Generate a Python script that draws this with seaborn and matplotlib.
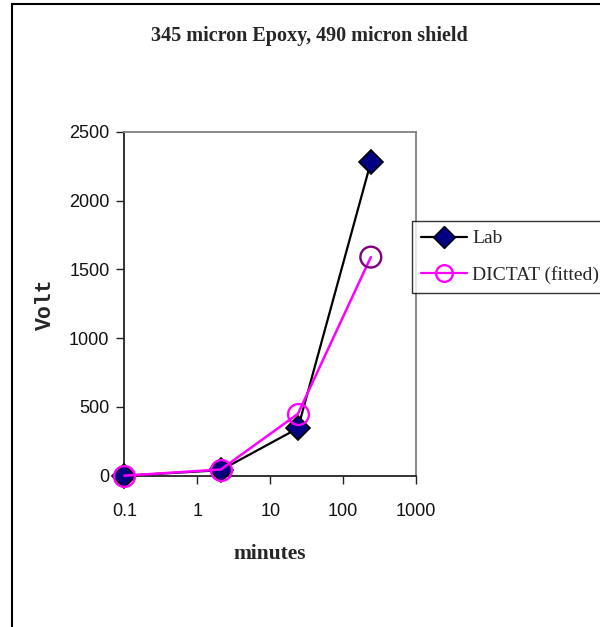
import matplotlib
matplotlib.use("Agg")
import matplotlib.pyplot as plt
from matplotlib.lines import Line2D
from matplotlib.patches import Rectangle
from matplotlib.ticker import FixedLocator, FixedFormatter, NullLocator
import seaborn as sns
import pandas as pd

# Charging time (minutes) and measured / fitted surface voltage
minutes = [0.1, 2.1, 24, 240]
lab_volt = [0, 40, 345, 2280]
dictat_volt = [0, 45, 450, 1590]

x_ticks = [0.1, 1, 10, 100, 1000]
x_tick_labels = ["0.1", "1", "10", "100", "1000"]
y_ticks = [0, 500, 1000, 1500, 2000, 2500]
y_tick_labels = ["0", "500", "1000", "1500", "2000", "2500"]

title_text = "345 micron Epoxy, 490 micron shield"
series_names = ["Lab", "DICTAT (fitted)"]

sns.set_theme(style="white")
plt.rcParams["font.family"] = ["Liberation Sans", "DejaVu Sans"]

df = pd.DataFrame({"minutes": minutes, "Lab": lab_volt, "DICTAT": dictat_volt})

fig = plt.figure(figsize=(6.0, 6.27), dpi=100)
W, H = 600, 627
left, right, top, bottom = 124.4, 416.0, 132.0, 475.7
ax = fig.add_axes([left / W, 1 - bottom / H, (right - left) / W, (bottom - top) / H])

navy = "#000080"
magenta = "#FF00FF"
purple = "#800080"

sns.lineplot(data=df, x="minutes", y="Lab", ax=ax, color="black", linewidth=1.6,
             marker="D", markersize=12.5, markerfacecolor=navy,
             markeredgecolor="black", markeredgewidth=1.2, sort=False, zorder=3,
             clip_on=False)
sns.lineplot(data=df, x="minutes", y="DICTAT", ax=ax, color=magenta, linewidth=1.8,
             marker="o", markersize=15, fillstyle="none", markeredgecolor=magenta,
             markeredgewidth=1.7, markevery=[0, 1, 2], sort=False, zorder=4,
             clip_on=False)
# last fitted point carries its own darker outline
last = df.iloc[[-1]]
sns.scatterplot(data=last, x="minutes", y="DICTAT", ax=ax, s=225, marker="o",
                facecolors="none", edgecolor=purple, linewidth=1.7, zorder=5,
                clip_on=False)

ax.set_xscale("log")
ax.set_xlim(0.1, 1000)
ax.set_ylim(0, 2500)
ax.xaxis.set_major_locator(FixedLocator(x_ticks))
ax.xaxis.set_major_formatter(FixedFormatter(x_tick_labels))
ax.xaxis.set_minor_locator(NullLocator())
ax.yaxis.set_major_locator(FixedLocator(y_ticks))
ax.yaxis.set_major_formatter(FixedFormatter(y_tick_labels))

for side in ("left", "bottom"):
    ax.spines[side].set_color("#222222")
    ax.spines[side].set_linewidth(1.3)
for side in ("top", "right"):
    ax.spines[side].set_color("#808080")
    ax.spines[side].set_linewidth(1.3)

ax.tick_params(axis="both", which="major", direction="out", length=5.8, width=1,
               color="#222222", labelsize=13, labelcolor="#111111")
ax.tick_params(axis="x", pad=14)
ax.tick_params(axis="y", pad=5)
ax.tick_params(left=True, bottom=True)

ax.set_xlabel("minutes", fontsize=15.5, fontweight="bold", family=["Liberation Serif"])
ax.set_ylabel("Volt", fontsize=15.5, fontweight="bold", family=["Liberation Mono"])
ax.xaxis.set_label_coords(0.5, -0.199)
ax.yaxis.set_label_coords(-0.234, 0.5)

fig.text(309.5 / W, 1 - 36.4 / H, title_text, ha="center", va="center",
         fontsize=14.5, fontweight="bold", family=["Liberation Serif"])

handles = [
    Line2D([], [], color="black", linewidth=1.6, marker="D", markersize=11,
           markerfacecolor=navy, markeredgecolor="black"),
    Line2D([], [], color=magenta, linewidth=1.6, marker="o", markersize=12,
           fillstyle="none", markeredgecolor=magenta, markeredgewidth=1.7),
]
leg = fig.legend(handles, series_names, loc="upper left",
                 bbox_to_anchor=(412 / W, 1 - 221 / H), frameon=True,
                 fancybox=False, shadow=False, handlelength=2.4, handletextpad=0.25,
                 labelspacing=0.95, borderpad=0.45, borderaxespad=0,
                 prop={"family": "Liberation Serif", "size": 14})
leg.get_frame().set_edgecolor("black")
leg.get_frame().set_linewidth(1.0)

# outer chart-area border
fig.patches.append(Rectangle((12 / W, -0.01), 0.99, 1 - 4 / H + 0.01,
                             transform=fig.transFigure, fill=False,
                             edgecolor="black", linewidth=1.5))

fig.savefig("out.png", dpi=100)
